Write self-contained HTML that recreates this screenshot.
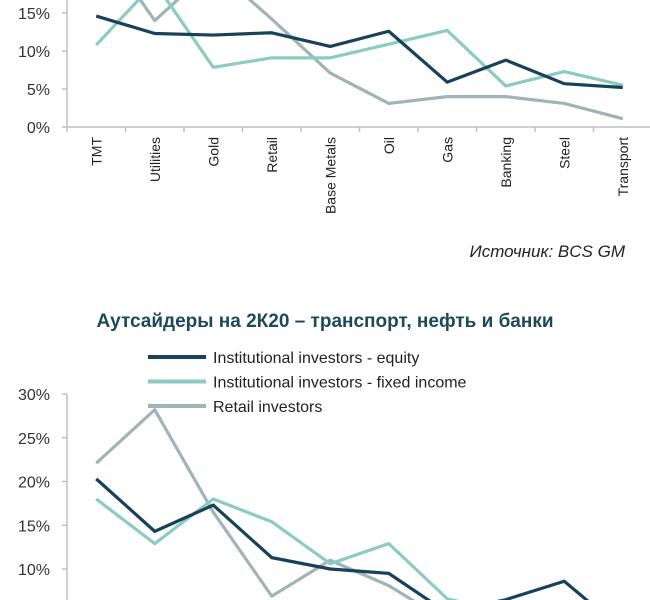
<!DOCTYPE html>
<html><head><meta charset="utf-8"><style>
body{margin:0;background:#fff;}
svg{display:block;font-family:"Liberation Sans","DejaVu Sans",sans-serif;}
</style></head><body>
<svg id="c" width="650" height="600" viewBox="0 0 650 600"></svg>
<script>
const categories=["TMT","Utilities","Gold","Retail","Base Metals","Oil","Gas","Banking","Steel","Transport"];
const topEquity=[14.6,12.3,12.1,12.4,10.6,12.6,5.9,8.8,5.7,5.2];
const topFixed=[10.8,19,7.85,9.1,9.1,10.9,12.7,5.4,7.3,5.5];
const topRetail=[25,14,21,14.2,7.1,3.1,4.0,4.0,3.1,1.1];
const topTicks=[0,5,10,15];
const botEquity=[20.3,14.3,17.3,11.3,10.0,9.5,5.0,6.5,8.6,3.0];
const botFixed=[18.0,12.9,18.0,15.4,10.6,12.9,6.6,5.0,4.0,3.0];
const botRetail=[22.1,28.2,16.5,6.9,11.0,8.1,4.0,3.0,3.0,3.0];
const botTicks=[10,15,20,25,30];
const seriesNames=["Institutional investors - equity","Institutional investors - fixed income","Retail investors"];
const colors=["#17425a","#8ccbc0","#a0b4b8"];
const keys=["equity","fixed-income","retail"];
const NS="http://www.w3.org/2000/svg";
const svg=document.getElementById('c');
function mk(t,a,p){const e=document.createElementNS(NS,t);for(const k in a)e.setAttribute(k,a[k]);(p||svg).appendChild(e);return e;}
const x0=67,step=58.5;
function xs(i){return x0+step*(i+0.5);}
const defs=mk('defs',{});
const c1=mk('clipPath',{id:'cl1'},defs);mk('rect',{x:0,y:0,width:650,height:130},c1);
const c2=mk('clipPath',{id:'cl2'},defs);mk('rect',{x:0,y:385,width:650,height:215},c2);
function chart(yOf,ticks,series,clip,axisTop,axisBottom,hasXAxis,name){
  const g=mk('g',{});
  
  const ax=mk('line',{x1:x0,y1:axisTop,x2:x0,y2:axisBottom,stroke:'#bfbfbf','stroke-width':1.5},g);
  
  ticks.forEach(t=>{
    const y=yOf(t);
    mk('line',{x1:x0-5,y1:y,x2:x0,y2:y,stroke:'#bfbfbf','stroke-width':1.5},g);
    const tx=mk('text',{x:x0-17,y:y+6,'text-anchor':'end','font-size':16,fill:'#333'},g);
    tx.textContent=t+'%';
    
  });
  if(hasXAxis){
    const y=yOf(0);
    const xa=mk('line',{x1:x0,y1:y,x2:650,y2:y,stroke:'#bfbfbf','stroke-width':1.5},g);
    
    categories.forEach((c,i)=>{
      mk('line',{x1:x0+step*i,y1:y,x2:x0+step*i,y2:y+5,stroke:'#bfbfbf','stroke-width':1.5},g);
      const tx=mk('text',{transform:`translate(${xs(i)+5},${y+10}) rotate(-90)`,'text-anchor':'end','font-size':14,fill:'#222'},g);
      tx.textContent=c;
      
    });
  }
  const lg=mk('g',{'clip-path':`url(#${clip})`},g);
  // draw retail first, then fixed, then equity on top
  [2,1,0].forEach(k=>{
    const s=series[k];
    const p=mk('polyline',{points:s.map((v,i)=>xs(i)+','+yOf(v)).join(' '),fill:'none',stroke:colors[k],'stroke-width':3.2,'stroke-linejoin':'round'},lg);
    
    
  });
}
const yTop=v=>127-v*7.6;
chart(yTop,topTicks,[topEquity,topFixed,topRetail],'cl1',0,127,true,'top-chart');
const yB=v=>394+(30-v)*8.75;
chart(yB,botTicks,[botEquity,botFixed,botRetail],'cl2',394,600,false,'bottom-chart');
const src=mk('text',{x:625,y:257,'text-anchor':'end','font-size':17,'font-style':'italic',fill:'#222'});
src.textContent='Источник: BCS GM';

const title=mk('text',{x:325,y:327,'text-anchor':'middle','font-size':19,'font-weight':'bold',fill:'#1c4a5a'});
title.textContent='Аутсайдеры на 2К20 – транспорт, нефть и банки';

seriesNames.forEach((n,k)=>{
  const y=357+k*24.5;
  const l=mk('line',{x1:148,y1:y,x2:206,y2:y,stroke:colors[k],'stroke-width':4});
  
  const t=mk('text',{x:213,y:y+6,'font-size':16,fill:'#222'});
  t.textContent=n;
  
});
</script>
</body></html>
